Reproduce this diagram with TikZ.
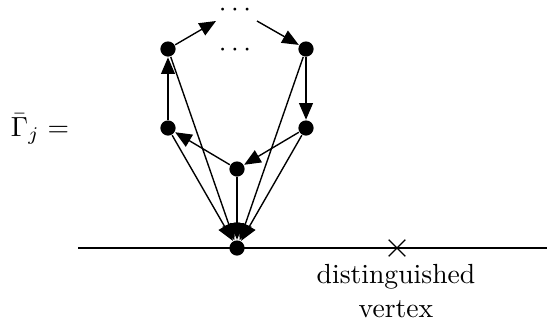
\documentclass[tikz,border=0pt]{standalone}
\usetikzlibrary{arrows.meta}
\begin{document}
\begin{tikzpicture}[x=0.3615pt,y=-0.3615pt,line width=0.5pt,
  vtx/.style={circle,fill=black,inner sep=0pt,minimum size=5.5pt},
  arr/.style={-{Triangle[length=6pt,width=5pt]}},
  lbl/.style={inner sep=0pt}]
\useasboundingbox (0,0) rectangle (547,325);
\node[vtx] (B) at (237,248) {};
\node[vtx] (C) at (237,169) {};
\node[vtx] (L1) at (168,128) {};
\node[vtx] (R1) at (306,128) {};
\node[vtx] (L2) at (168,49) {};
\node[vtx] (R2) at (306,49) {};
\node[lbl] (d1) at (235,16) {$\smash{\cdots}$};
\node[lbl] (d2) at (235,56) {$\smash{\cdots}$};
\coordinate (t1) at (216,21);
\coordinate (t2) at (257,21);
\node[lbl,anchor=base] (G) at (40,136) {$\bar\Gamma_j =$};
\coordinate (hl) at (78,248);
\coordinate (hr) at (547,248);
\node[lbl] (X) at (397,248) {};
\node[lbl,align=center,anchor=north] (T) at (396,264) {distinguished\\vertex};

\draw (hl) -- (hr);
\draw ([xshift=-3pt,yshift=-3pt]X.center) -- ([xshift=3pt,yshift=3pt]X.center);
\draw ([xshift=-3pt,yshift=3pt]X.center) -- ([xshift=3pt,yshift=-3pt]X.center);

\draw[arr] (L2) -- (t1);
\draw[arr] (t2) -- (R2);
\draw[arr] (R2) -- (R1);
\draw[arr] (L1) -- (L2);
\draw[arr] (R1) -- (C);
\draw[arr] (C) -- (L1);
\draw[arr] (L1) -- (B);
\draw[arr] (L2) -- (B);
\draw[arr] (C) -- (B);
\draw[arr] (R1) -- (B);
\draw[arr] (R2) -- (B);
\end{tikzpicture}
\end{document}
